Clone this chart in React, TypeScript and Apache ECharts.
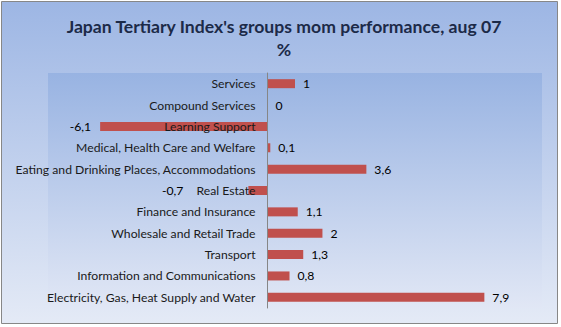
import React, { useEffect, useRef } from "react";
import * as echarts from "echarts";

const categories = [
  "Electricity, Gas, Heat Supply and Water",
  "Information and Communications",
  "Transport",
  "Wholesale and Retail Trade",
  "Finance and Insurance",
  "Real Estate",
  "Eating and Drinking Places, Accommodations",
  "Medical, Health Care and Welfare",
  "Learning Support",
  "Compound Services",
  "Services",
];
const values = [7.9, 0.8, 1.3, 2, 1.1, -0.7, 3.6, 0.1, -6.1, 0, 1];
const titleText = "Japan Tertiary Index's groups mom performance, aug 07";
const subtitleText = "%";
const xMin = -8;
const xMax = 10;

const FONT = "Lato";
const GRID_LEFT = 48;
const GRID_RIGHT = 19;
const WIDTH = 561;

export default function App() {
  const ref = useRef<HTMLDivElement>(null);
  useEffect(() => {
    document.body.style.margin = "0";
    const chart = echarts.init(ref.current!, null, { renderer: "svg" });
    const data = values.map((v, i) => {
      const item: any = { value: v };
      if (v < 0) {
        item.label = {
          position: "left",
          distance: categories[i] === "Real Estate" ? 65 : 9,
        };
      }
      return item;
    });
    // shift the category axis (line + labels) to the zero of the value axis
    const plotW = WIDTH - GRID_LEFT - GRID_RIGHT;
    const zeroOffset = (-xMin / (xMax - xMin)) * plotW;
    chart.setOption({
      animation: false,
      backgroundColor: "transparent",
      graphic: [
        {
          type: "rect",
          shape: { x: 1.5, y: 1.5, width: 556, height: 322 },
          style: {
            fill: new echarts.graphic.LinearGradient(0, 0, 0, 1, [
              { offset: 0, color: "#9DB6E4" },
              { offset: 1, color: "#E4EAF6" },
            ]),
            stroke: "#878787",
            lineWidth: 1,
          },
          z: -10,
        },
      ],
      title: {
        text: titleText + "\n" + subtitleText,
        left: 279,
        textAlign: "center",
        top: 10,
        textStyle: {
          fontFamily: FONT,
          fontWeight: "bold",
          fontSize: 17.6,
          color: "#1C2A48",
          lineHeight: 23,
        },
      },
      grid: {
        left: GRID_LEFT,
        right: GRID_RIGHT,
        top: 73,
        bottom: 19,
        outerBoundsMode: "none",
        containLabel: false,
        show: true,
        borderWidth: 0,
        backgroundColor: new echarts.graphic.LinearGradient(0, 0, 0, 1, [
          { offset: 0, color: "#98B3E2" },
          { offset: 1, color: "#E1E7F5" },
        ]),
      },
      xAxis: {
        type: "value",
        min: xMin,
        max: xMax,
        show: false,
      },
      yAxis: {
        type: "category",
        data: categories,
        z: 10,
        position: "left",
        offset: -zeroOffset,
        axisLine: { onZero: false, lineStyle: { color: "#868686", width: 1 } },
        axisTick: { show: false },
        axisLabel: {
          margin: 12,
          fontFamily: FONT,
          fontSize: 12.2,
          color: "#1a1a1a",
        },
      },
      series: [
        {
          type: "bar",
          data,
          barWidth: 9,
          itemStyle: { color: "#C0504D" },
          label: {
            show: true,
            position: "right",
            distance: 8,
            fontFamily: FONT,
            fontSize: 12.2,
            color: "#000",
            formatter: (p: any) => String(p.value).replace(".", ","),
          },
        },
      ],
    });
    return () => chart.dispose();
  }, []);
  return <div ref={ref} style={{ width: 561, height: 327 }} />;
}
